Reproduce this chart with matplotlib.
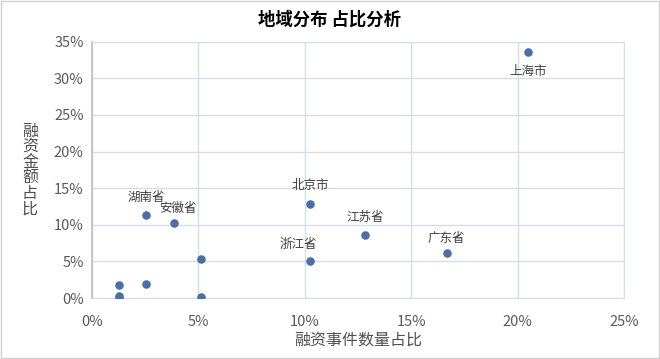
import matplotlib
matplotlib.use("Agg")
import matplotlib.pyplot as plt
from matplotlib.ticker import FuncFormatter, MultipleLocator
from matplotlib.patches import Rectangle

plt.rcParams['font.family'] = ['Noto Sans CJK SC', 'DejaVu Sans']

# event share (x) and amount share (y), in percent
event_share = [20.51, 2.56, 3.85, 10.26, 10.26, 12.82, 16.67, 5.13, 5.13, 2.56, 1.28, 1.28, 1.28]
amount_share = [33.6, 11.3, 10.2, 12.9, 5.1, 8.6, 6.1, 5.3, 0.2, 1.9, 1.8, 0.3, 0.05]
names = ['上海市', '湖南省', '安徽省', '北京市', '浙江省', '江苏省', '广东省', '', '', '', '', '', '']
y_title = '融资金额占比'

W, H = 660, 359
fig = plt.figure(figsize=(6.6, 3.59), dpi=100)
ax = fig.add_axes([92 / W, 1 - 298 / H, (624 - 92) / W, (298 - 41.7) / H])

ax.scatter(event_share, amount_share, s=38, color='#4A6FA6', zorder=3, linewidths=0)

# label offsets in points (dx, dy)
offsets = {
    '上海市': (0, -14),
    '湖南省': (0, 13),
    '安徽省': (3, 11),
    '北京市': (0, 13),
    '浙江省': (-9, 12),
    '江苏省': (0, 13),
    '广东省': (0, 11),
}
for x, y, n in zip(event_share, amount_share, names):
    if not n:
        continue
    dx, dy = offsets[n]
    ax.annotate(n, (x, y), xytext=(dx, dy), textcoords='offset points',
                ha='center', va='center', fontsize=9, color='#404040')

ax.set_xlim(0, 25)
ax.set_ylim(0, 35)
ax.xaxis.set_major_locator(MultipleLocator(5))
ax.yaxis.set_major_locator(MultipleLocator(5))
pct = FuncFormatter(lambda v, p: f'{v:.0f}%')
ax.xaxis.set_major_formatter(pct)
ax.yaxis.set_major_formatter(pct)
ax.tick_params(length=0, labelsize=10.5, labelcolor='#595959')
ax.tick_params(axis='x', pad=12)
ax.tick_params(axis='y', pad=6)

ax.grid(True, color='#D6DCE8', linewidth=1)
ax.set_axisbelow(True)
for side in ['top', 'right', 'bottom']:
    ax.spines[side].set_color('#D6DCE8')
ax.spines['left'].set_color('#BFBFBF')
ax.spines['left'].set_linewidth(1.2)

ax.set_xlabel('融资事件数量占比', fontsize=11.5, color='#505050', labelpad=2)

# vertical y title, one character per line
for i, ch in enumerate(y_title):
    fig.text(30 / W, 1 - (131 + i * 15.7) / H, ch, ha='center', va='center',
             fontsize=11.5, color='#505050')

fig.text(0.5, 1 - 20 / H, '地域分布 占比分析', ha='center', va='center',
         fontsize=12.5, fontweight='bold', color='black')

fig.patches.append(Rectangle((0.001, 0.002), 0.997, 0.995, transform=fig.transFigure,
                             fill=False, edgecolor='#D0D0D0', linewidth=1))

fig.savefig('out.png', dpi=100)
